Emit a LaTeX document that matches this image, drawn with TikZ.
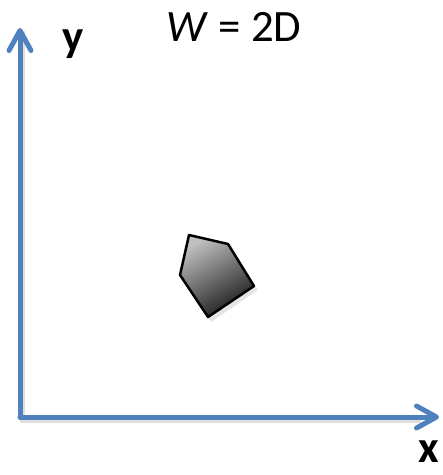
\documentclass[tikz,border=0pt]{standalone}
\usepackage{fontspec}
\setmainfont{Carlito}
\usepackage{xcolor}
\usetikzlibrary{arrows.meta, positioning}
\definecolor{axisblue}{RGB}{79,129,189}

\begin{document}
\begin{tikzpicture}[x=1bp, y=-1bp, font=\fontsize{45}{48}\selectfont]
\tikzstyle{axis} = [draw=axisblue, line width=5bp, line cap=round, line join=round,
    -{Straight Barb[length=20bp, width=22bp, line cap=round, line join=round]}]
\tikzstyle{axisshadow} = [draw=black!25, opacity=0.5, line width=5bp]
\tikzstyle{lbl} = [inner sep=0pt, anchor=base]
\tikzstyle{robot} = [draw=black, line width=2.5bp, line join=round,
    top color=black!25, bottom color=black!90, shading angle=30]

\useasboundingbox (0,0) rectangle (443,475);

\coordinate (origin) at (20,417);
\coordinate (ytip) at (20,28);
\coordinate (xtip) at (439,417);

% shadows
\draw [axisshadow] ([shift={(2,3)}]ytip) -- ([shift={(2,3)}]origin) -- ([shift={(-18,3)}]xtip);
\fill [black!30, opacity=0.35] (192,239) -- (231,248) -- (258,290) -- (211,322) -- (183,279) -- cycle;

% axes
\draw [axis] (origin) -- (ytip);
\draw [axis] (origin) -- (xtip);

% obstacle
\draw [robot] (189,235) -- (228,244) -- (254,286) -- (208,317) -- (180,275) -- cycle;

% labels
\node (ylabel) [lbl] at (73,52) {\textbf{y}};
\node (wlabel) [lbl] at (234,42) {\textit{W} = 2D};
\node (xlabel) [lbl] at (429,462) {\textbf{x}};

\end{tikzpicture}
\end{document}
